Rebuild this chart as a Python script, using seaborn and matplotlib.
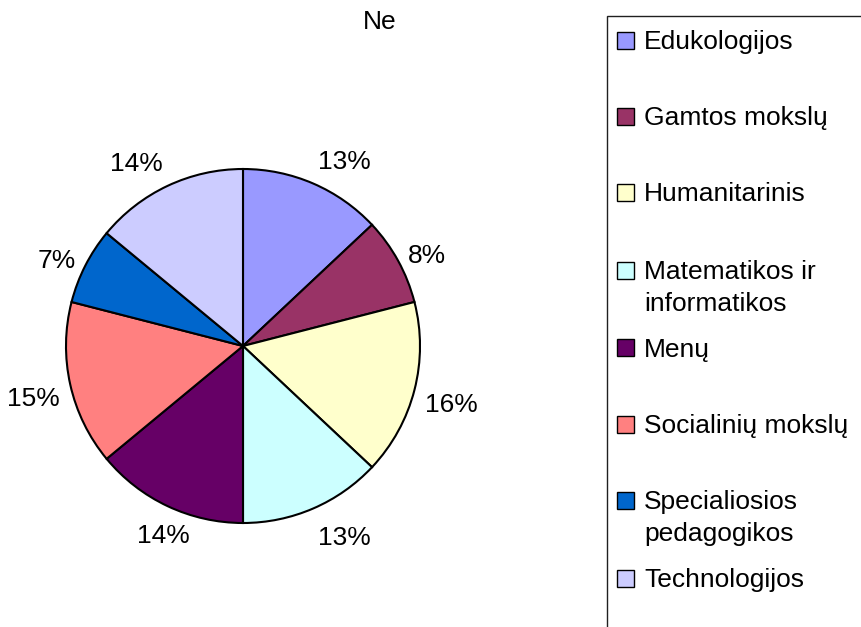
import matplotlib
matplotlib.use("Agg")
import matplotlib.pyplot as plt
import seaborn as sns
import numpy as np
from matplotlib.patches import Rectangle

categories = ["Edukologijos", "Gamtos mokslų", "Humanitarinis", "Matematikos ir\ninformatikos",
              "Menų", "Socialinių mokslų", "Specialiosios\npedagogikos", "Technologijos"]
values = [13, 8, 16, 13, 14, 15, 7, 14]
colors = ["#9999FF", "#993366", "#FFFFCC", "#CCFFFF", "#660066", "#FF8080", "#0066CC", "#CCCCFF"]
title = "Ne"

sns.set_theme(style="white")
plt.rcParams['font.family'] = ['Liberation Sans', 'DejaVu Sans']
plt.rcParams['text.color'] = 'black'

W, H = 861, 627
FS = 19
fig = plt.figure(figsize=(W / 100, H / 100), dpi=100)
fig.patch.set_facecolor("white")

cx, cy, r = 243, 346, 177
ax = fig.add_axes([(cx - r) / W, (H - cy - r) / H, 2 * r / W, 2 * r / H])
wedges, _ = ax.pie(values, colors=colors, startangle=90, counterclock=False,
                   wedgeprops=dict(edgecolor="black", linewidth=1.5))
ax.set_xlim(-1, 1)
ax.set_ylim(-1, 1)
ax.set_aspect("equal")
ax.axis("off")

total = sum(values)
R = 1.06
for w, v in zip(wedges, values):
    ang = np.deg2rad((w.theta1 + w.theta2) / 2)
    c, s = np.cos(ang), np.sin(ang)
    if s < -0.5 and c < 0:
        ha = "center"
    elif c > 0.1:
        ha = "left"
    elif c < -0.1:
        ha = "right"
    else:
        ha = "center"
    if s > 0.5:
        va = "bottom"
    elif s < 0:
        va = "top"
    else:
        va = "center"
    ry = R + (0.05 if s < -0.5 else 0.0)
    ax.text(R * c, ry * s, f"{100 * v / total:.0f}%", ha=ha, va=va, fontsize=FS,
            color="black", clip_on=False)

fig.text(380 / W, 1 - 22 / H, title, ha="center", va="center", fontsize=FS, color="black")

# legend box
fig.patches.append(Rectangle((607 / W, -0.1), 1, 1.1 - 16 / H, transform=fig.transFigure,
                             facecolor="white", edgecolor="#202020", linewidth=1.0, zorder=0))
ys = [40, 116, 192, 270, 348, 424, 500, 578]
for cat, col, y in zip(categories, colors, ys):
    fig.patches.append(Rectangle((617 / W, 1 - (y + 8.5) / H), 17 / W, 17 / H,
                                 transform=fig.transFigure, facecolor=col,
                                 edgecolor="black", linewidth=1.0, zorder=2))
    fig.text(644 / W, 1 - (y - 10) / H, cat, ha="left", va="top", fontsize=FS,
             linespacing=1.4, color="black")

fig.savefig("out.png", dpi=100, facecolor="white")
